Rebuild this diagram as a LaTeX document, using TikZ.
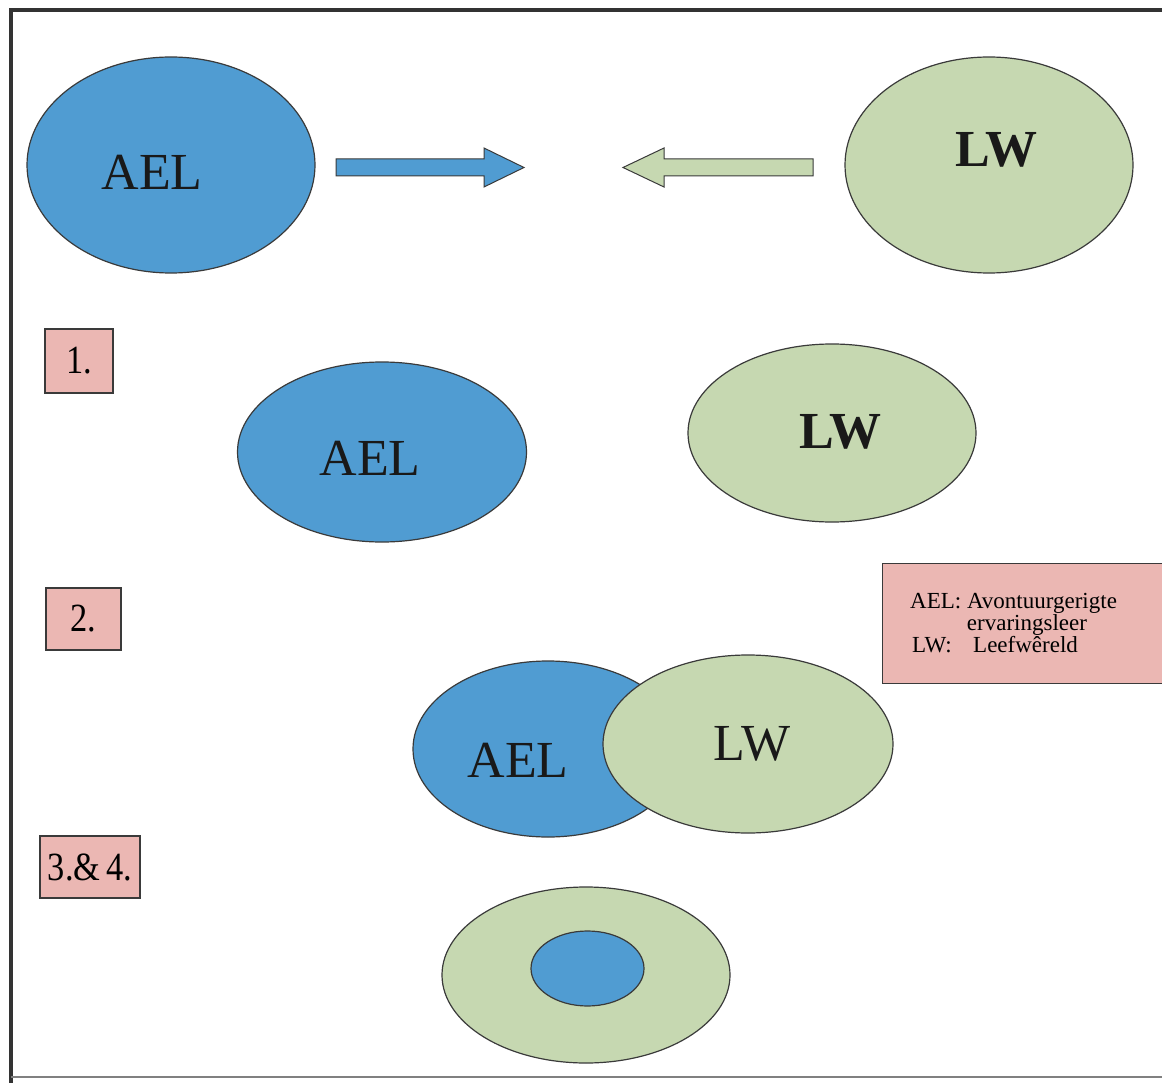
\documentclass[tikz,border=0pt]{standalone}
\usepackage{graphicx}
\usepackage{fontspec}
\setmainfont{Liberation Serif}
\usetikzlibrary{shapes.geometric}

\definecolor{aelblue}{HTML}{509CD2}
\definecolor{lwgreen}{HTML}{C6D8B1}
\definecolor{tagpink}{HTML}{EBB7B3}
\definecolor{edgegray}{HTML}{3A3A3A}
\definecolor{framegray}{HTML}{333333}

% slightly condensed setting for the stage tags
\newcommand{\condensed}[1]{\scalebox{0.86}[1]{#1}}

\begin{document}
\begin{tikzpicture}[x=1pt,y=-1pt,
  oval/.style={ellipse, draw=edgegray, line width=1.2pt, inner sep=0pt, outer sep=0pt},
  aeloval/.style={oval, fill=aelblue},
  lwoval/.style={oval, fill=lwgreen},
  big/.style={font=\fontsize{52}{60}\selectfont, inner sep=0pt, anchor=base, text=black!90},
  tag/.style={draw=edgegray, line width=1.2pt, fill=tagpink, inner sep=0pt,
    font=\fontsize{40}{46}\selectfont},
  legendtext/.style={font=\fontsize{23}{26}\selectfont, inner sep=0pt, anchor=base west},
  arrowbody/.style={draw=edgegray, line width=1pt, line join=miter}
]
% page
\useasboundingbox (0,0) rectangle (1162,1083);
\fill[white] (0,0) rectangle (1162,1083);

% outer frame
\draw[framegray, line width=4pt] (11,1083) -- (11,10) -- (1162,10);
\draw[gray, line width=2pt] (11,1077) -- (1162,1077);

% top row: the two fields moving towards each other
\node[aeloval, minimum width=288pt, minimum height=216pt] (ael0) at (171,165) {};
\node[lwoval,  minimum width=288pt, minimum height=216pt] (lw0)  at (989,165) {};
\node[big] (ael0t) at (152,190) {AEL};
\node[big, font=\fontsize{52}{60}\selectfont\bfseries] (lw0t) at (996,167) {LW};

\draw[arrowbody, fill=aelblue]
  (336,159) -- (484,159) -- (484,148) -- (524,167.5) -- (484,187) -- (484,176) -- (336,176) -- cycle;
\draw[arrowbody, fill=lwgreen]
  (813,159) -- (664,159) -- (664,148) -- (623,167.5) -- (664,187) -- (664,176) -- (813,176) -- cycle;

% stage 1
\node[tag, minimum width=68pt, minimum height=64pt] (s1) at (79,361) {\condensed{1.}};
\node[aeloval, minimum width=289pt, minimum height=180pt] (ael1) at (382,452) {};
\node[lwoval,  minimum width=288pt, minimum height=178pt] (lw1)  at (832,433) {};
\node[big] (ael1t) at (370,475) {AEL};
\node[big, font=\fontsize{52}{60}\selectfont\bfseries] (lw1t) at (840,448) {LW};

% stage 2: overlapping fields
\node[tag, minimum width=75pt, minimum height=62pt] (s2) at (83.5,619) {\condensed{2.}};
\node[aeloval, minimum width=270pt, minimum height=176pt] (ael2) at (548,749) {};
\node[lwoval,  minimum width=290pt, minimum height=178pt] (lw2)  at (748,744) {};
\node[big] (ael2t) at (518,777) {AEL};
\node[big] (lw2t) at (752,760) {LW};

% legend
\node[draw=edgegray, line width=1.2pt, fill=tagpink, minimum width=284pt, minimum height=120pt,
  inner sep=0pt, anchor=north west] (legend) at (882,563) {};
\node[legendtext] (leg1) at (910,608) {AEL: Avontuurgerigte};
\node[legendtext, anchor=base] (leg2) at (1027,630) {ervaringsleer};
\node[legendtext] (leg3a) at (912,652) {LW:};
\node[legendtext] (leg3b) at (973,652) {Leefwêreld};

% stages 3 and 4: one field inside the other
\node[tag, minimum width=100pt, minimum height=62pt] (s3) at (90,867) {\condensed{3.\&\,4.}};
\node[lwoval,  minimum width=288pt, minimum height=176pt] (lw3)  at (586,975) {};
\node[aeloval, minimum width=113pt, minimum height=75pt]  (ael3) at (587.5,968.5) {};
\end{tikzpicture}
\end{document}
